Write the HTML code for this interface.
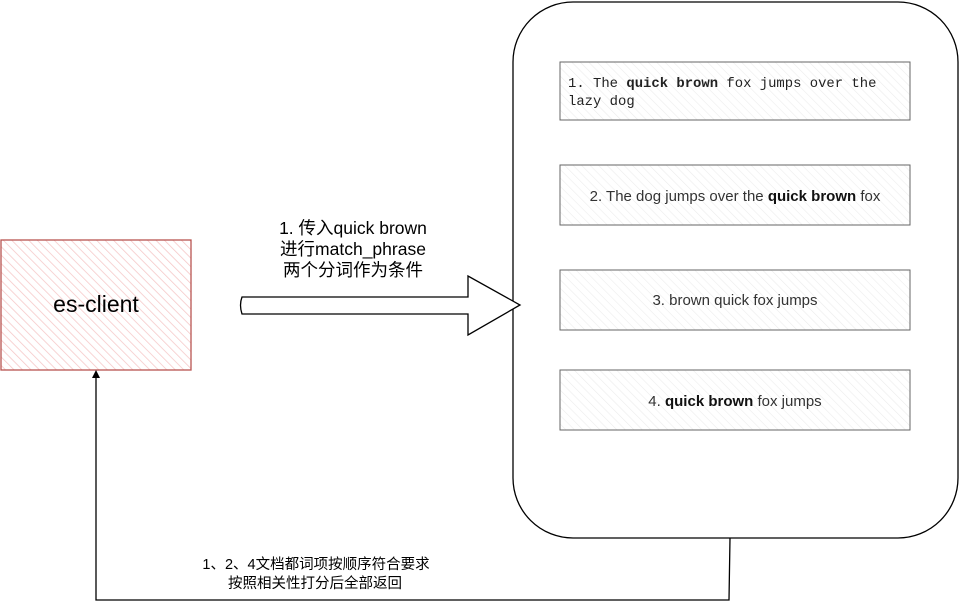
<!DOCTYPE html>
<html><head><meta charset="utf-8"><style>
html,body{margin:0;padding:0;background:#fff;}
svg{display:block;}
text{font-family:"Liberation Sans","Noto Sans CJK SC",sans-serif;}
.mono{font-family:"Liberation Mono","Noto Sans CJK SC",monospace;}
</style></head><body>
<svg width="959" height="609" viewBox="0 0 959 609" xmlns="http://www.w3.org/2000/svg">
<defs>
<pattern id="hr" width="6" height="6" patternUnits="userSpaceOnUse" patternTransform="rotate(-45)">
<line x1="0" y1="0" x2="0" y2="6" stroke="#f5c5c5" stroke-width="1.5"/></pattern>
<pattern id="hg" width="6" height="6" patternUnits="userSpaceOnUse" patternTransform="rotate(-45)">
<line x1="0" y1="0" x2="0" y2="6" stroke="#ececec" stroke-width="1.2"/></pattern>
</defs>
<rect x="513" y="2" width="445" height="536" rx="60" ry="60" fill="#fff" stroke="#000" stroke-width="1.3"/>
<g stroke="#666" stroke-width="1">
<rect x="560" y="62" width="350" height="58" fill="url(#hg)"/>
<rect x="560" y="165" width="350" height="60" fill="url(#hg)"/>
<rect x="560" y="270" width="350" height="60" fill="url(#hg)"/>
<rect x="560" y="370" width="350" height="60" fill="url(#hg)"/>
</g>
<text class="mono" x="568" y="87" font-size="13.9" fill="#222">1. The <tspan font-weight="bold">quick brown</tspan> fox jumps over the</text>
<text class="mono" x="568" y="105" font-size="13.9" fill="#222">lazy dog</text>
<text x="735" y="201" font-size="15" fill="#333" text-anchor="middle">2. The dog jumps over the <tspan font-weight="bold" fill="#111">quick brown</tspan> fox</text>
<text x="735" y="305" font-size="15" fill="#333" text-anchor="middle">3. brown quick  fox jumps</text>
<text x="735" y="406" font-size="15" fill="#333" text-anchor="middle">4. <tspan font-weight="bold" fill="#111">quick brown</tspan> fox jumps</text>
<rect x="1" y="240" width="190" height="130" fill="url(#hr)" stroke="#b85450" stroke-width="1.3"/>
<text x="96" y="312" font-size="23" fill="#000" text-anchor="middle">es-client</text>
<path d="M242 297 L468 297 L468 276 L520 305 L468 335 L468 314 L242 314 Q239 305 242 297 Z" fill="#fff" stroke="#000" stroke-width="1.3"/>
<text x="353" y="234" font-size="17.5" text-anchor="middle">1. 传入quick brown</text>
<text x="353" y="255" font-size="17.5" text-anchor="middle">进行match_phrase</text>
<text x="353" y="276" font-size="17.5" text-anchor="middle">两个分词作为条件</text>
<path d="M730 538 L729 600 L96 600 L96 376" fill="none" stroke="#000" stroke-width="1.3"/>
<path d="M92 378 L96 370 L100 378 Z" fill="#000"/>
<text x="316" y="569" font-size="14.5" text-anchor="middle">1、2、4文档都词项按顺序符合要求</text>
<text x="315" y="588" font-size="14.5" text-anchor="middle">按照相关性打分后全部返回</text>
</svg>
</body></html>
